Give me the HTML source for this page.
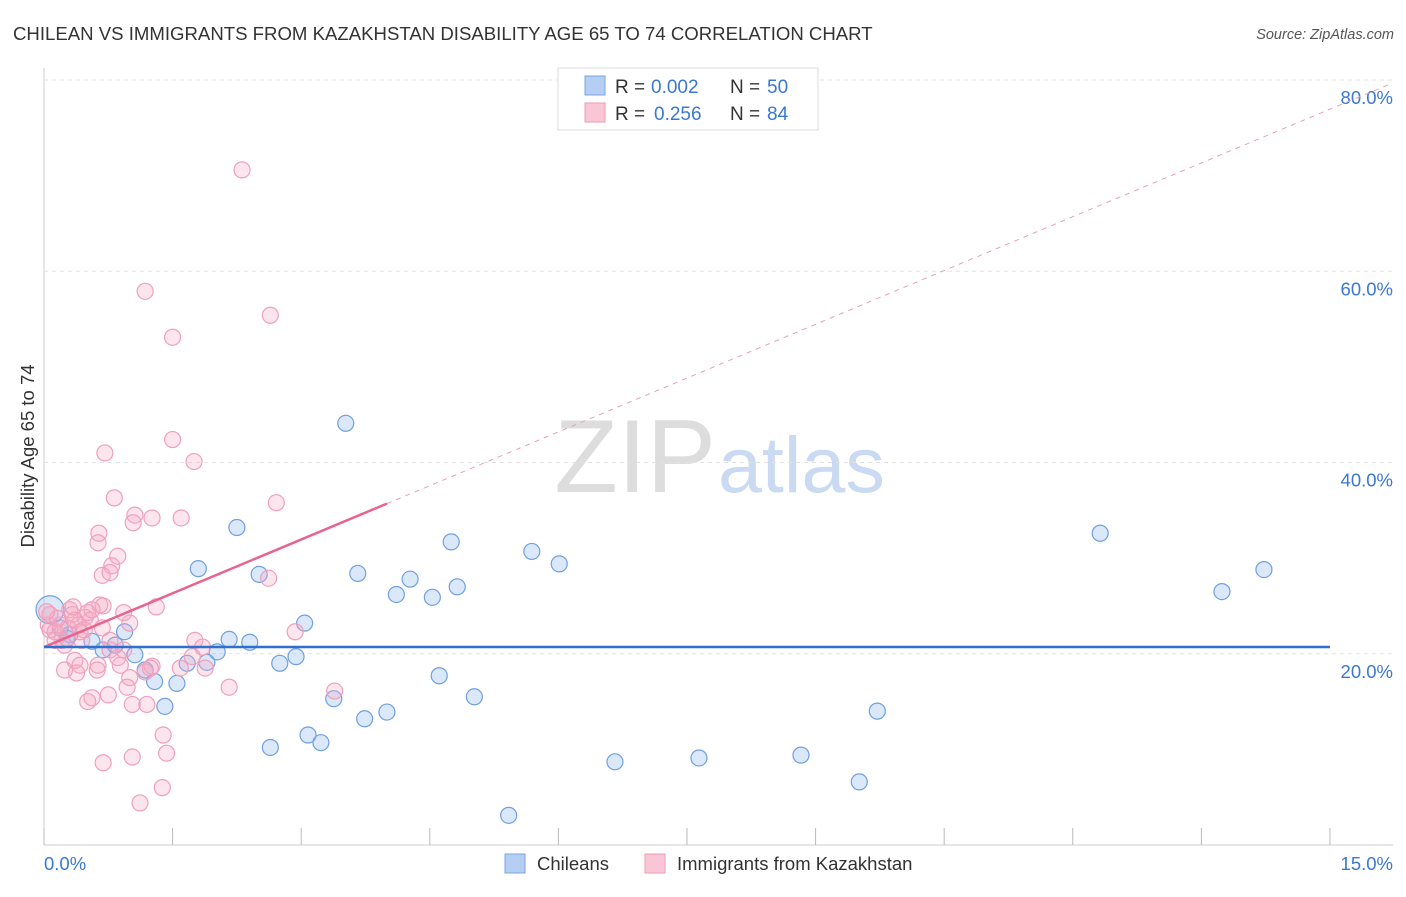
<!DOCTYPE html>
<html><head><meta charset="utf-8"><style>
body{margin:0;background:#fff;font-family:"Liberation Sans",sans-serif;}
svg text{font-family:"Liberation Sans",sans-serif;}
</style></head><body>
<svg id="chart" width="1406" height="892">
<text x="13" y="40" font-size="18.6" fill="#333">CHILEAN VS IMMIGRANTS FROM KAZAKHSTAN DISABILITY AGE 65 TO 74 CORRELATION CHART</text>
<text x="1394" y="39" font-size="14.5" fill="#555" text-anchor="end" font-style="italic">Source: ZipAtlas.com</text>
<text x="716" y="492" font-size="104" fill="#ddd" text-anchor="end" font-family="Liberation Serif">ZIP</text>
<text x="718" y="492" font-size="79" fill="#c9daf2">atlas</text>
<text transform="translate(34,456) rotate(-90)" font-size="18.5" fill="#333" text-anchor="middle">Disability Age 65 to 74</text>
<g id="grid"></g><g id="marks"></g>
<g>
<rect x="558" y="68" width="260" height="62" fill="#fff" stroke="#ddd"/>
<rect x="585" y="76" width="20" height="19" fill="#b5cff2" stroke="#7aa6e2"/>
<text x="615" y="93" font-size="19" fill="#333">R =</text>
<text x="651" y="93" font-size="19" fill="#3a78d4">0.002</text>
<text x="730" y="93" font-size="19" fill="#333">N =</text>
<text x="767" y="93" font-size="19" fill="#3a78d4">50</text>
<rect x="585" y="103" width="20" height="19" fill="#f9c6d6" stroke="#ee9ab6"/>
<text x="615" y="120" font-size="19" fill="#333">R =</text>
<text x="654" y="120" font-size="19" fill="#3a78d4">0.256</text>
<text x="730" y="120" font-size="19" fill="#333">N =</text>
<text x="767" y="120" font-size="19" fill="#3a78d4">84</text>
</g>
<g>
<rect x="505" y="854" width="20" height="19" fill="#b5cff2" stroke="#7aa6e2"/>
<text x="537" y="870" font-size="18.5" fill="#333">Chileans</text>
<rect x="645" y="854" width="20" height="19" fill="#f9c6d6" stroke="#ee9ab6"/>
<text x="677" y="870" font-size="18.5" fill="#333">Immigrants from Kazakhstan</text>
</g>
</svg>
<script>
const xTicks=[0,1.5,3,4.5,6,7.5,9,10.5,12,13.5,15];
const yTicks=[20,40,60,80];
const blueX=[0.07,0.19,0.30,0.56,0.69,0.83,0.94,1.06,1.18,1.29,1.41,1.55,1.67,1.80,1.90,2.02,2.16,2.25,2.40,2.51,2.64,2.75,2.94,3.04,3.08,3.23,3.38,3.52,3.66,3.74,4.00,4.11,4.27,4.53,4.61,4.75,4.82,5.02,5.42,5.69,6.01,6.66,7.64,8.83,9.51,9.72,12.32,13.74,14.23,0.27];
const blueY=[24.6,22.7,22.0,21.3,20.4,20.9,22.3,19.9,18.3,17.1,14.5,16.9,19.0,28.9,19.1,20.2,21.5,33.2,21.2,28.3,10.2,19.0,19.7,23.2,11.5,10.7,15.3,44.1,28.4,13.2,13.9,26.2,27.8,25.9,17.7,31.7,27.0,15.5,3.1,30.7,29.4,8.7,9.1,9.4,6.6,14.0,32.6,26.5,28.8,21.6];
const pinkX=[2.31,1.18,2.64,1.50,1.50,0.71,1.75,0.82,2.71,0.64,1.06,1.26,1.60,1.04,0.63,0.86,0.79,0.68,0.77,2.62,1.31,0.69,0.93,1.00,0.30,0.33,0.48,0.54,0.40,0.19,0.07,0.13,0.24,0.44,0.07,0.05,0.42,0.28,0.77,0.86,1.76,1.85,2.93,1.26,1.18,1.59,1.73,1.88,1.00,0.97,0.24,0.38,0.62,0.63,0.56,0.51,0.75,1.03,1.20,2.16,3.39,1.39,1.43,1.03,0.69,1.38,1.12,0.21,0.36,0.51,0.16,0.68,0.93,0.36,0.42,0.13,0.89,1.24,0.65,0.03,0.34,0.47,0.56,0.77];
const pinkY=[70.6,57.9,55.4,53.1,42.4,41.0,40.1,36.3,35.8,32.6,34.5,34.2,34.2,33.7,31.6,30.2,29.2,28.2,28.5,27.9,24.9,25.0,24.3,23.2,24.6,24.1,23.8,23.5,23.0,23.0,22.5,21.4,20.9,21.4,24.1,23.0,22.3,22.7,20.4,19.6,21.4,20.7,22.3,18.7,18.1,18.5,19.7,18.5,17.5,16.5,18.3,18.0,18.3,18.8,15.4,15.0,15.7,14.7,14.7,16.5,16.1,11.5,9.6,9.2,8.6,6.0,4.4,21.4,23.5,24.3,23.7,22.7,20.4,19.3,18.8,22.3,18.8,18.5,25.1,24.4,24.9,22.5,24.6,21.4];
const blueTrend=[20.7,20.7]; // at x=0 and x=15
const pinkTrend=[20.7,35.7]; // at x=0 and x=4
const X=v=>44+v*85.73, Y=v=>845-v*9.5625;
const NS="http://www.w3.org/2000/svg";
function mk(t,a,p){const e=document.createElementNS(NS,t);for(const k in a)e.setAttribute(k,a[k]);p.appendChild(e);return e;}
const grid=document.getElementById('grid'),marks=document.getElementById('marks');
let e=mk('line',{x1:44,y1:68,x2:44,y2:845,stroke:'#ccc'},grid);


e=mk('line',{x1:44,y1:845,x2:1393,y2:845,stroke:'#ccc'},grid);


e=mk('line',{x1:44,y1:Y(80),x2:1393,y2:Y(80),stroke:'#ddd','stroke-dasharray':'4,4'},grid);


yTicks.forEach(t=>{
 let g=mk('line',{x1:44,y1:Y(t),x2:1393,y2:Y(t),stroke:'#e2e2e2','stroke-dasharray':'4,4'},grid);
 
 
 let l=mk('text',{x:1393,y:Y(t)+24,'font-size':18.5,fill:'#3a78d4','text-anchor':'end'},grid);l.textContent=t.toFixed(1)+'%';
 
 
});
xTicks.forEach(t=>{
 let g=mk('line',{x1:X(t),y1:828,x2:X(t),y2:845,stroke:'#bbb'},grid);
 
 
});
[[0,'start',44],[15,'end',1393]].forEach(([t,a,x])=>{
 let l=mk('text',{x:x,y:870,'font-size':18.5,fill:'#3a78d4','text-anchor':a},grid);l.textContent=t.toFixed(1)+'%';
 
 
});
blueX.forEach((v,i)=>{
 const c=mk('circle',{cx:X(v),cy:Y(blueY[i]),r:i===0?14:8,fill:'rgba(150,190,240,0.35)',stroke:'#6fa0e0','stroke-width':1.2},marks);
 
 
});
pinkX.forEach((v,i)=>{
 const c=mk('circle',{cx:X(v),cy:Y(pinkY[i]),r:8,fill:'rgba(245,170,195,0.3)',stroke:'#f0a0bb','stroke-width':1.2},marks);
 
 
});
const slope=(pinkTrend[1]-pinkTrend[0])/4;
e=mk('line',{x1:X(4),y1:Y(pinkTrend[1]),x2:X(15.7),y2:Y(pinkTrend[0]+slope*15.7),stroke:'#eaa0b8','stroke-width':1,'stroke-dasharray':'5,5'},marks);


e=mk('line',{x1:X(0),y1:Y(pinkTrend[0]),x2:X(4),y2:Y(pinkTrend[1]),stroke:'#e8648f','stroke-width':2.5},marks);


e=mk('line',{x1:X(0),y1:Y(blueTrend[0]),x2:X(15),y2:Y(blueTrend[1]),stroke:'#2f6fcf','stroke-width':2.5},marks);


</script>
</body></html>
